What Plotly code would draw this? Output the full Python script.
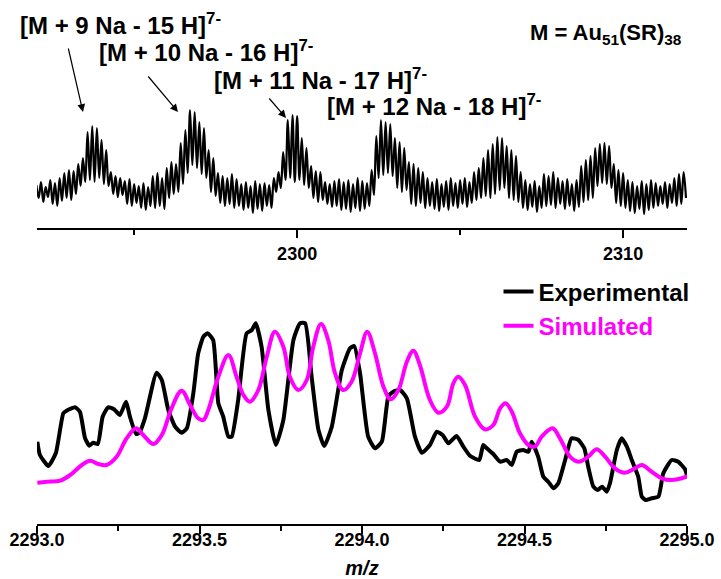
import numpy as np
import plotly.graph_objects as go

# ---------------- top panel: wide m/z scan (7- charge state, isotope spacing 1/7) -------------
top_start = 2292.0
iso_step = 1.0 / 7.0
# intensity at each isotope maximum
top_peaks = [43, 46, 41, 48, 45, 50, 55, 58, 57, 64,
             70, 96, 102, 100, 88, 78, 56, 52, 50, 47,
             49, 44, 42, 45, 41, 52, 55, 50, 60, 66,
             64, 85, 98, 118, 116, 106, 100, 78, 70, 55,
             52, 50, 54, 49, 44, 46, 42, 47, 44, 45,
             43, 50, 56, 76, 108, 113, 112, 90, 80, 62,
             57, 56, 46, 44, 47, 49, 46, 48, 44, 50,
             47, 45, 58, 92, 108, 106, 104, 90, 86, 80,
             66, 64, 60, 56, 50, 46, 49, 44, 47, 50,
             45, 48, 50, 46, 56, 60, 70, 78, 84, 91,
             90, 82, 78, 72, 56, 48, 44, 47, 42, 54,
             52, 56, 50, 47, 49, 44, 48, 62, 68, 72,
             80, 84, 85, 82, 64, 58, 55, 48, 46, 42,
             47, 44, 48, 45, 42, 46, 44, 50, 54, 56]
# intensity at the trough following each isotope maximum
top_troughs = [30, 26, 31, 24, 22, 27, 30, 28, 34, 42,
               46, 48, 46, 50, 44, 42, 34, 31, 33, 24,
               22, 25, 20, 18, 22, 20, 22, 19, 30, 34,
               36, 44, 55, 63, 60, 54, 50, 36, 32, 25,
               22, 24, 20, 22, 18, 20, 15, 19, 17, 22,
               20, 36, 40, 48, 50, 46, 48, 43, 40, 30,
               26, 28, 24, 21, 22, 18, 19, 16, 20, 17,
               19, 22, 33, 50, 53, 55, 52, 40, 36, 38,
               24, 22, 25, 20, 22, 19, 17, 21, 18, 22,
               20, 24, 21, 25, 28, 30, 32, 30, 34, 38,
               40, 30, 28, 26, 20, 18, 21, 16, 20, 22,
               23, 20, 24, 19, 22, 17, 21, 26, 28, 30,
               42, 45, 44, 40, 25, 22, 20, 17, 15, 19,
               14, 18, 20, 22, 24, 20, 25, 22, 24, 30]
top_tickvals = [2300, 2310]

# ---------------- bottom panel: zoom, experimental vs simulated ----------------
exp_mz = [2293.001, 2293.009, 2293.035, 2293.058, 2293.081, 2293.091, 2293.117, 2293.132,
          2293.148, 2293.161, 2293.173, 2293.187, 2293.202, 2293.219, 2293.237, 2293.255,
          2293.274, 2293.286, 2293.305, 2293.315, 2293.332, 2293.368, 2293.384, 2293.404,
          2293.425, 2293.445, 2293.461, 2293.481, 2293.496, 2293.512, 2293.525, 2293.542,
          2293.558, 2293.573, 2293.589, 2293.599, 2293.619, 2293.645, 2293.661, 2293.673,
          2293.691, 2293.712, 2293.735, 2293.758, 2293.789, 2293.809, 2293.825, 2293.845,
          2293.866, 2293.884, 2293.907, 2293.938, 2293.963, 2293.976, 2293.994, 2294.019,
          2294.040, 2294.061, 2294.081, 2294.096, 2294.117, 2294.138, 2294.163, 2294.184,
          2294.209, 2294.230, 2294.248, 2294.266, 2294.291, 2294.312, 2294.332, 2294.361,
          2294.373, 2294.384, 2294.404, 2294.425, 2294.445, 2294.461, 2294.476, 2294.496,
          2294.512, 2294.522, 2294.542, 2294.558, 2294.573, 2294.589, 2294.604, 2294.625,
          2294.645, 2294.666, 2294.684, 2294.696, 2294.712, 2294.725, 2294.739, 2294.753,
          2294.763, 2294.784, 2294.799, 2294.815, 2294.830, 2294.850, 2294.861, 2294.873,
          2294.891, 2294.912, 2294.927, 2294.953, 2294.973, 2294.994, 2295.002]
exp_int = [82.3, 69, 58, 71, 110.7, 113.3, 116.7, 112.3,
           85.7, 78.3, 81.3, 80, 107.3, 116.7, 114.7, 109,
           122.3, 107.3, 90, 91.3, 105.7, 151.3, 144, 114,
           97.3, 91.3, 95.7, 130.7, 170.7, 187.3, 190.7, 184,
           120.7, 107.3, 87.3, 87.3, 124, 190.7, 194, 200.7,
           177.3, 114, 79, 104, 184, 200.7, 200.7, 147.3,
           94, 78, 97.3, 154, 175.7, 178, 150.7, 87.3,
           75.7, 82.3, 127.3, 132.3, 134, 125.7, 87.3, 71.3,
           79, 92.3, 89, 80.7, 88, 77.3, 68.3, 64,
           79, 75.7, 70, 62.3, 64, 59, 72.3, 74,
           72.3, 82.3, 67.3, 47.3, 42.3, 35.7, 40.7, 64,
           85.7, 84, 75.7, 57.3, 37.3, 34, 37.3, 32.3,
           40.7, 74, 85.7, 77.3, 64, 47.3, 27.3, 24,
           25.7, 27.3, 50.7, 64, 62.3, 54.7, 45.7]

sim_mz = [2293.001, 2293.030, 2293.071, 2293.102, 2293.138, 2293.163, 2293.189, 2293.214,
          2293.245, 2293.276, 2293.305, 2293.327, 2293.358, 2293.384, 2293.414, 2293.445,
          2293.471, 2293.496, 2293.512, 2293.527, 2293.558, 2293.589, 2293.614, 2293.635,
          2293.655, 2293.681, 2293.707, 2293.732, 2293.758, 2293.778, 2293.804, 2293.830,
          2293.850, 2293.874, 2293.896, 2293.917, 2293.942, 2293.968, 2293.994, 2294.016,
          2294.040, 2294.066, 2294.088, 2294.112, 2294.138, 2294.158, 2294.178, 2294.209,
          2294.235, 2294.261, 2294.281, 2294.296, 2294.317, 2294.348, 2294.378, 2294.404,
          2294.425, 2294.442, 2294.461, 2294.486, 2294.512, 2294.532, 2294.553, 2294.586,
          2294.609, 2294.640, 2294.666, 2294.696, 2294.722, 2294.748, 2294.778, 2294.809,
          2294.835, 2294.861, 2294.891, 2294.922, 2294.953, 2294.984, 2295.002]
sim_int = [41.3, 42.3, 43.3, 49, 59, 63.3, 60, 59,
           67.3, 85.7, 95.7, 89, 80, 89, 115.7, 133.3,
           119, 105.7, 104, 114, 147.3, 169, 147.3, 129,
           122.3, 134, 167.3, 192.3, 177.3, 147.3, 134, 144,
           177.3, 200, 184, 150.7, 134, 142.3, 170.7, 192.3,
           170.7, 137.3, 124.7, 134, 162.3, 173.3, 159, 124,
           111.3, 117.3, 140.7, 147.3, 139, 107.3, 94.7, 99,
           115.7, 120.7, 112.3, 90.7, 79, 77.3, 87.3, 95.7,
           85.7, 67.3, 62.3, 67.3, 74.7, 67.3, 55.7, 51.3,
           54.7, 59, 52.3, 45.7, 44, 45.7, 48]

series_names = ["Experimental", "Simulated"]
bottom_tickvals = [2293.0, 2293.5, 2294.0, 2294.5, 2295.0]
ion_labels = ["[M + 9 Na - 15 H]", "[M + 10 Na - 16 H]", "[M + 11 Na - 17 H]", "[M + 12 Na - 18 H]"]

# ---------------------------------------------------------------------------------------
top_x = []
top_y = []
for k in range(len(top_peaks)):
    top_x.append(top_start + k * iso_step)
    top_y.append(top_peaks[k])
    top_x.append(top_start + (k + 0.5) * iso_step)
    top_y.append(top_troughs[k])

FONT = "Liberation Sans, Arial, sans-serif"
MAGENTA = "#FF00FF"

fig = go.Figure()
fig.add_trace(go.Scatter(x=top_x, y=top_y, mode="lines", xaxis="x", yaxis="y",
                         line=dict(color="black", width=2.2, shape="spline", smoothing=1.0),
                         showlegend=False, hoverinfo="skip"))
fig.add_trace(go.Scatter(x=exp_mz, y=exp_int, mode="lines", xaxis="x2", yaxis="y2",
                         name=series_names[0],
                         line=dict(color="black", width=4, shape="spline", smoothing=0.5)))
fig.add_trace(go.Scatter(x=sim_mz, y=sim_int, mode="lines", xaxis="x2", yaxis="y2",
                         name="<span style='color:%s'>%s</span>" % (MAGENTA, series_names[1]),
                         line=dict(color=MAGENTA, width=4, shape="spline", smoothing=1.0)))

H_PLOT = 524.0
top_dom0 = (H_PLOT - 228) / H_PLOT
bot_dom1 = (H_PLOT - 300) / H_PLOT

axis_common = dict(showline=True, linecolor="black", linewidth=2, ticks="outside",
                   tickcolor="black", tickwidth=2, ticklen=8, showgrid=False, zeroline=False,
                   tickfont=dict(family=FONT, size=18, color="black", weight="bold"))

fig.update_layout(
    width=721, height=579,
    margin=dict(l=37, r=34, t=0, b=55),
    paper_bgcolor="white", plot_bgcolor="white",
    font=dict(family=FONT, color="black"),
    xaxis=dict(domain=[0, 1], anchor="y", range=[2292.02, 2311.96],
               tickvals=top_tickvals, ticktext=[str(v) for v in top_tickvals],
               minor=dict(dtick=5, tick0=2290, ticks="outside", ticklen=5, tickwidth=2,
                          tickcolor="black", showgrid=False),
               **axis_common),
    yaxis=dict(domain=[top_dom0, 1], anchor="x", range=[0, 228], visible=False),
    xaxis2=dict(domain=[0, 1], anchor="y2", range=[2293.0, 2295.0],
                tickvals=bottom_tickvals, ticktext=["%.1f" % v for v in bottom_tickvals],
                ticklabelstandoff=-10,
                minor=dict(dtick=0.25, tick0=2293.0, ticks="outside", ticklen=5, tickwidth=2,
                           tickcolor="black", showgrid=False),
                title=dict(text="m/z", standoff=12,
                           font=dict(family=FONT, size=20, color="black", weight="bold",
                                     style="italic")),
                **axis_common),
    yaxis2=dict(domain=[0, bot_dom1], anchor="x2", range=[0, 224], visible=False),
    showlegend=True,
    legend=dict(x=0.710, y=0.486, xanchor="left", yanchor="top",
                bgcolor="rgba(0,0,0,0)", borderwidth=0, tracegroupgap=0,
                font=dict(family=FONT, size=24, color="black", weight="bold")),
)


def px2paper(px, py):
    return (px - 37) / 650.0, (H_PLOT - py) / H_PLOT


label_pos = [(18, 24), (97, 51), (212, 79), (325, 105)]
for text, (lx, ly) in zip(ion_labels, label_pos):
    xp, yp = px2paper(lx, ly)
    fig.add_annotation(x=xp, y=yp, xref="paper", yref="paper", xanchor="left", yanchor="middle",
                       text=text + "<sup>7-</sup>", showarrow=False,
                       font=dict(family=FONT, size=24, color="black", weight="bold"))

xp, yp = px2paper(528, 34)
fig.add_annotation(x=xp, y=yp, xref="paper", yref="paper", xanchor="left", yanchor="middle",
                   text="M = Au<sub>51</sub>(SR)<sub>38</sub>", showarrow=False,
                   font=dict(family=FONT, size=22, color="black", weight="bold"))

# arrows: (tail px, tip px)
arrows = [((68, 47), (83, 112)), ((147, 75), (178, 112)), ((268, 97), (286, 118))]
for (tx, ty), (hx, hy) in arrows:
    xp, yp = px2paper(hx, hy)
    fig.add_annotation(x=xp, y=yp, xref="paper", yref="paper", text="", showarrow=True,
                       ax=tx - hx, ay=ty - hy, arrowhead=2, arrowsize=1.3, arrowwidth=1.2,
                       arrowcolor="black", standoff=0)

fig.write_html("out.html")
